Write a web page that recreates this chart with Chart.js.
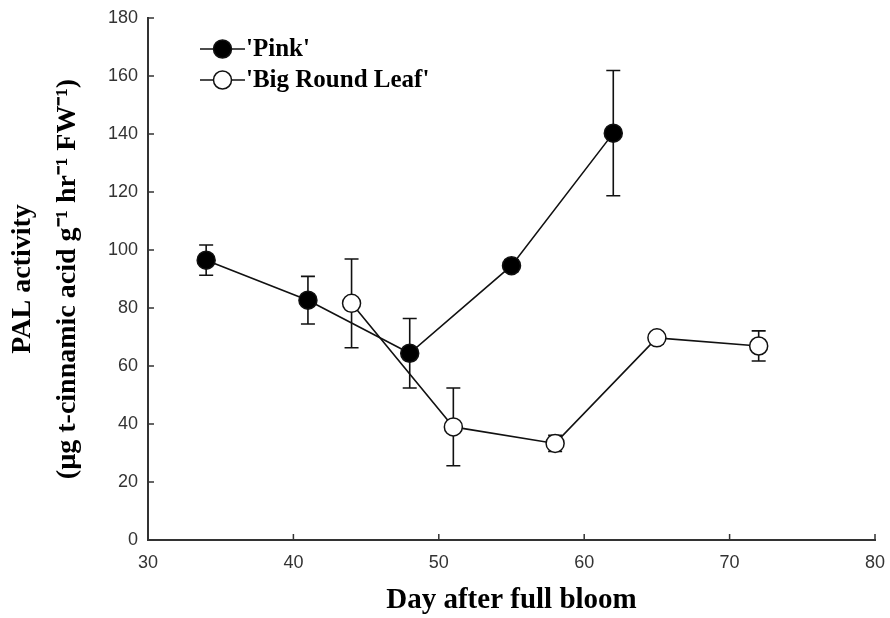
<!DOCTYPE html>
<html><head><meta charset="utf-8">
<script src="https://cdn.jsdelivr.net/npm/chart.js@4"></script>
<style>html,body{margin:0;padding:0;background:#fff;} #wrap{width:890px;height:618px;}</style>
</head><body><div id="wrap"><canvas id="c" width="890" height="618"></canvas></div>
<script>
const pinkLabel = "'Pink'";
const brlLabel = "'Big Round Leaf'";
const pinkDays = [34, 41, 48, 55, 62];
const pinkValues = [96.5, 82.7, 64.4, 94.6, 140.3];
const pinkErrors = [5.2, 8.2, 12, 2, 21.6];
const brlDays = [44, 51, 58, 65, 72];
const brlValues = [81.6, 39, 33.3, 69.7, 66.9];
const brlErrors = [15.3, 13.4, 2.8, 2, 5.2];
const xTickValues = [30, 40, 50, 60, 70, 80];
const yTickValues = [0, 20, 40, 60, 80, 100, 120, 140, 160, 180];
const xTitle = 'Day after full bloom';
const yTitle = ['PAL activity', '(µg t-cinnamic acid g⁻¹ hr⁻¹ FW⁻¹)'];

const toPoints = (xs, ys) => xs.map((x, i) => ({x: x, y: ys[i]}));

const errorBarPlugin = {
  id: 'errorBars',
  beforeDatasetsDraw(chart) {
    const ctx = chart.ctx, xs = chart.scales.x, ys = chart.scales.y;
    ctx.save();
    ctx.strokeStyle = '#111';
    ctx.lineWidth = 1.6;
    chart.data.datasets.forEach(ds => {
      ds.data.forEach((p, j) => {
        const e = ds.errors[j];
        const px = xs.getPixelForValue(p.x);
        const yt = ys.getPixelForValue(p.y + e);
        const yb = ys.getPixelForValue(p.y - e);
        ctx.beginPath();
        ctx.moveTo(px, yt); ctx.lineTo(px, yb);
        ctx.moveTo(px - 7, yt); ctx.lineTo(px + 7, yt);
        ctx.moveTo(px - 7, yb); ctx.lineTo(px + 7, yb);
        ctx.stroke();
      });
    });
    ctx.restore();
  }
};

const innerTickPlugin = {
  id: 'innerTicks',
  afterDraw(chart) {
    const ctx = chart.ctx, xs = chart.scales.x, ys = chart.scales.y, a = chart.chartArea;
    ctx.save();
    ctx.strokeStyle = '#333';
    ctx.lineWidth = 1.5;
    ctx.beginPath();
    xs.ticks.forEach(t => {
      const px = xs.getPixelForValue(t.value);
      ctx.moveTo(px, a.bottom); ctx.lineTo(px, a.bottom - 6);
    });
    ys.ticks.forEach(t => {
      const py = ys.getPixelForValue(t.value);
      ctx.moveTo(a.left, py); ctx.lineTo(a.left + 6, py);
    });
    ctx.stroke();
    ctx.restore();
  }
};

const insideLegendPlugin = {
  id: 'insideLegend',
  afterDraw(chart) {
    const ctx = chart.ctx, a = chart.chartArea;
    ctx.save();
    chart.data.datasets.forEach((ds, i) => {
      const cy = a.top + 31 + i * 31;
      const x0 = a.left + 52, x1 = a.left + 97, cx = (x0 + x1) / 2;
      ctx.strokeStyle = ds.borderColor;
      ctx.lineWidth = 1.5;
      ctx.beginPath(); ctx.moveTo(x0, cy); ctx.lineTo(x1, cy); ctx.stroke();
      ctx.beginPath(); ctx.arc(cx, cy, ds.pointRadius, 0, Math.PI * 2);
      ctx.fillStyle = ds.pointBackgroundColor; ctx.fill();
      ctx.lineWidth = ds.pointBorderWidth; ctx.strokeStyle = ds.pointBorderColor; ctx.stroke();
      ctx.fillStyle = '#000';
      ctx.font = 'bold 25px "Liberation Serif", "Times New Roman", serif';
      ctx.textAlign = 'left';
      ctx.textBaseline = 'middle';
      ctx.fillText(ds.label, x1 + 1, cy + 1);
    });
    ctx.restore();
  }
};

const tickFont = {family: '"Liberation Sans", Arial, sans-serif', size: 18};
const titleFont = {family: '"Liberation Serif", "Times New Roman", serif', size: 28, weight: 'bold'};

new Chart(document.getElementById('c'), {
  type: 'scatter',
  data: {
    datasets: [
      {
        label: pinkLabel, data: toPoints(pinkDays, pinkValues), errors: pinkErrors,
        showLine: true, borderColor: '#111', borderWidth: 1.6,
        pointRadius: 9, pointHoverRadius: 9, pointBackgroundColor: '#000',
        pointBorderColor: '#111', pointBorderWidth: 1.5
      },
      {
        label: brlLabel, data: toPoints(brlDays, brlValues), errors: brlErrors,
        showLine: true, borderColor: '#111', borderWidth: 1.6,
        pointRadius: 9, pointHoverRadius: 9, pointBackgroundColor: '#fff',
        pointBorderColor: '#111', pointBorderWidth: 1.5
      }
    ]
  },
  options: {
    responsive: false,
    devicePixelRatio: 1,
    animation: false,
    layout: {padding: {left: 0, right: 15, top: 18, bottom: 0}},
    plugins: {legend: {display: false}, tooltip: {enabled: false}},
    scales: {
      x: {
        type: 'linear', min: 30, max: 80,
        afterBuildTicks: s => { s.ticks = xTickValues.map(v => ({value: v})); },
        afterFit: s => { s.height = 78; s.paddingLeft = 0; s.paddingRight = 0; },
        grid: {display: false, drawTicks: false},
        border: {display: true, color: '#333', width: 2},
        ticks: {font: tickFont, color: '#333', padding: 12},
        title: {display: true, text: xTitle, font: Object.assign({}, titleFont, {size: 29}), color: '#000', padding: {top: 0, bottom: 0}}
      },
      y: {
        type: 'linear', min: 0, max: 180,
        afterBuildTicks: s => { s.ticks = yTickValues.map(v => ({value: v})); },
        afterFit: s => { s.width = 148; s.paddingTop = 0; s.paddingBottom = 0; },
        grid: {display: false, drawTicks: false},
        border: {display: true, color: '#333', width: 2},
        ticks: {font: tickFont, color: '#333', padding: 10},
        title: {display: true, text: yTitle, font: Object.assign({}, titleFont, {lineHeight: 1.62}), color: '#000', padding: {top: 0, bottom: 0}}
      }
    }
  },
  plugins: [errorBarPlugin, innerTickPlugin, insideLegendPlugin]
});
</script>
</body></html>
